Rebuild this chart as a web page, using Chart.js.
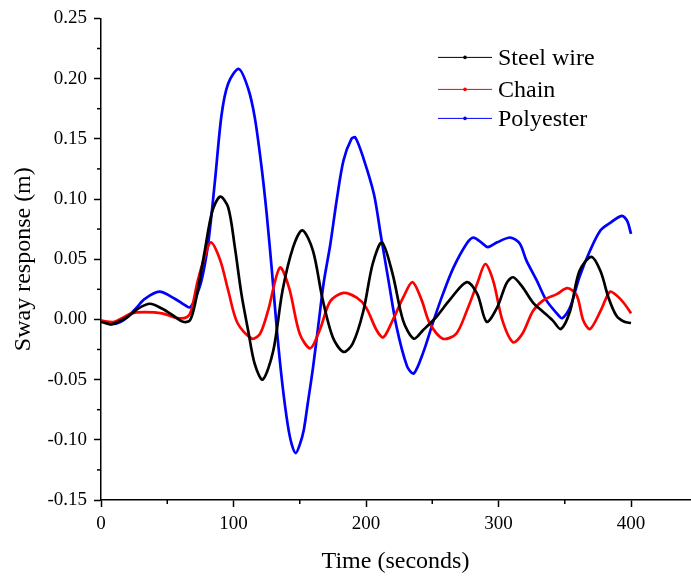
<!DOCTYPE html>
<html>
<head>
<meta charset="utf-8">
<script src="https://cdn.jsdelivr.net/npm/chart.js@4"></script>
<style>
  html, body { margin: 0; padding: 0; background: #fff; }
  #wrap { width: 691px; height: 579px; }
</style>
</head>
<body>
<div id="wrap"><canvas id="swayChart"></canvas></div>
<script>
// Sample data
const timeSteel = [0, 8, 20, 28, 37, 46, 56, 62, 67, 71, 78, 84, 90, 96, 101, 106, 111, 116, 122, 130, 137, 145, 152, 160, 167, 175, 183, 190, 198, 205, 212, 220, 228, 236, 243, 253, 263, 276, 284, 291, 299, 306, 311, 318, 326, 334, 341, 347, 354, 361, 370, 377, 383, 389, 395, 400];
const steelWire = [-0.002, -0.004, 0.002, 0.009, 0.013, 0.009, 0.002, -0.002, -0.001, 0.013, 0.055, 0.090, 0.102, 0.093, 0.060, 0.021, -0.009, -0.037, -0.050, -0.026, 0.024, 0.060, 0.074, 0.057, 0.018, -0.015, -0.027, -0.020, 0.007, 0.046, 0.064, 0.038, -0.001, -0.016, -0.009, 0.002, 0.016, 0.031, 0.021, -0.002, 0.010, 0.030, 0.035, 0.027, 0.014, 0.006, -0.001, -0.008, 0.007, 0.040, 0.052, 0.040, 0.018, 0.003, -0.002, -0.003];

const timeChain = [0, 10, 23, 33, 46, 58, 65, 68, 73, 78, 83, 90, 96, 103, 114, 120, 126, 135, 142, 150, 158, 165, 173, 183, 193, 200, 208, 213, 220, 228, 235, 242, 248, 258, 268, 276, 284, 290, 296, 303, 311, 318, 326, 334, 344, 352, 359, 364, 369, 377, 384, 389, 395, 400];
const chain = [-0.001, -0.002, 0.005, 0.006, 0.005, 0.001, 0.002, 0.007, 0.032, 0.051, 0.064, 0.049, 0.024, -0.003, -0.016, -0.012, 0.007, 0.043, 0.026, -0.012, -0.024, -0.009, 0.015, 0.022, 0.018, 0.010, -0.009, -0.015, -0.001, 0.018, 0.031, 0.016, -0.003, -0.016, -0.012, 0.007, 0.030, 0.046, 0.032, -0.001, -0.019, -0.012, 0.007, 0.016, 0.021, 0.026, 0.020, -0.001, -0.008, 0.007, 0.023, 0.020, 0.013, 0.005];

const timePoly = [0, 8, 15, 20, 27, 33, 44, 56, 63, 67, 71, 76, 81, 86, 91, 96, 104, 111, 116, 121, 125, 129, 133, 137, 141, 144, 147, 150, 153, 156, 160, 164, 168, 173, 178, 183, 189, 192, 198, 206, 211, 217, 223, 231, 236, 243, 251, 258, 266, 276, 281, 288, 292, 299, 309, 316, 321, 329, 336, 344, 348, 354, 361, 369, 377, 384, 393, 397, 400];
const polyester = [-0.001, -0.004, -0.002, 0.002, 0.010, 0.017, 0.023, 0.017, 0.012, 0.010, 0.017, 0.033, 0.064, 0.115, 0.170, 0.196, 0.208, 0.192, 0.168, 0.128, 0.088, 0.040, -0.012, -0.055, -0.088, -0.104, -0.111, -0.104, -0.092, -0.070, -0.040, -0.005, 0.030, 0.062, 0.100, 0.132, 0.150, 0.151, 0.134, 0.104, 0.071, 0.032, -0.006, -0.039, -0.045, -0.028, -0.001, 0.021, 0.043, 0.063, 0.068, 0.063, 0.060, 0.064, 0.068, 0.063, 0.049, 0.032, 0.016, 0.005, 0.001, 0.010, 0.035, 0.057, 0.074, 0.080, 0.086, 0.082, 0.071];

const seriesNames = ['Steel wire', 'Chain', 'Polyester'];
const xTicks = [0, 100, 200, 300, 400];
const yTicks = [-0.15, -0.10, -0.05, 0.00, 0.05, 0.10, 0.15, 0.20, 0.25];

const serif = "'Liberation Serif', 'Times New Roman', serif";

function toPoints(xs, ys) {
  return xs.map((x, i) => ({ x: x, y: ys[i] }));
}

// minor ticks halfway between the majors + legend inside the plot
const extras = {
  id: 'extras',
  afterDraw(chart) {
    const ctx = chart.ctx;
    const xs = chart.scales.x, ys = chart.scales.y;
    ctx.save();
    ctx.strokeStyle = '#000';
    ctx.lineWidth = 1.5;
    for (let i = 0; i < xTicks.length; i++) {
      const v = xTicks[i] + 50;
      if (v > xs.max) break;
      const px = xs.getPixelForValue(v);
      ctx.beginPath();
      ctx.moveTo(px, ys.bottom);
      ctx.lineTo(px, ys.bottom + 4);
      ctx.stroke();
    }
    for (let i = 0; i < yTicks.length - 1; i++) {
      const py = ys.getPixelForValue((yTicks[i] + yTicks[i + 1]) / 2);
      ctx.beginPath();
      ctx.moveTo(xs.left, py);
      ctx.lineTo(xs.left - 4, py);
      ctx.stroke();
    }

    // legend
    const area = chart.chartArea;
    const lx = area.right - 252;
    const rows = [39, 71, 100];
    ctx.font = '24px ' + serif;
    ctx.textBaseline = 'middle';
    chart.data.datasets.forEach((ds, i) => {
      const y = area.top + rows[i];
      ctx.strokeStyle = ds.borderColor;
      ctx.lineWidth = 1;
      ctx.beginPath();
      ctx.moveTo(lx, y);
      ctx.lineTo(lx + 54, y);
      ctx.stroke();
      ctx.fillStyle = ds.borderColor;
      ctx.beginPath();
      ctx.arc(lx + 27, y, 1.8, 0, Math.PI * 2);
      ctx.fill();
      ctx.fillStyle = '#000';
      ctx.fillText(ds.label, lx + 60, y + 1);
    });
    ctx.restore();
  }
};

const ctx = document.getElementById('swayChart').getContext('2d');

const swayChart = new Chart(ctx, {
  type: 'line',
  data: {
    datasets: [{
      label: seriesNames[0],
      data: toPoints(timeSteel, steelWire),
      borderColor: '#000000',
      borderWidth: 2.7,
      pointRadius: 0,
      tension: 0.3
    }, {
      label: seriesNames[1],
      data: toPoints(timeChain, chain),
      borderColor: '#ff0000',
      borderWidth: 2.7,
      pointRadius: 0,
      tension: 0.3
    }, {
      label: seriesNames[2],
      data: toPoints(timePoly, polyester),
      borderColor: '#0000ff',
      borderWidth: 2.7,
      pointRadius: 0,
      tension: 0.3
    }]
  },
  options: {
    responsive: true,
    maintainAspectRatio: false,
    animation: false,
    layout: { padding: { top: 16, right: 1, left: 0, bottom: 0 } },
    plugins: {
      legend: { display: false },
      tooltip: { enabled: false }
    },
    scales: {
      x: {
        type: 'linear',
        min: 0,
        max: 444.5,
        afterFit: (scale) => { scale.height = 79; },
        afterBuildTicks: (scale) => { scale.ticks = xTicks.map(v => ({ value: v })); },
        border: { color: '#000', width: 1.5 },
        grid: { drawOnChartArea: false, tickLength: 7, tickColor: '#000', tickWidth: 1.5 },
        ticks: {
          color: '#000',
          font: { family: serif, size: 19 },
          padding: 6,
          maxRotation: 0
        },
        title: {
          display: true,
          text: 'Time (seconds)',
          color: '#000',
          font: { family: serif, size: 24 },
          padding: { top: 0, bottom: 3 }
        }
      },
      y: {
        min: -0.15,
        max: 0.25,
        afterFit: (scale) => { scale.width = 101; },
        afterBuildTicks: (scale) => { scale.ticks = yTicks.map(v => ({ value: v })); },
        border: { color: '#000', width: 1.5 },
        grid: { drawOnChartArea: false, tickLength: 7, tickColor: '#000', tickWidth: 1.5 },
        ticks: {
          color: '#000',
          font: { family: serif, size: 19 },
          padding: 7,
          callback: (v) => v.toFixed(2)
        },
        title: {
          display: true,
          text: 'Sway response (m)',
          color: '#000',
          font: { family: serif, size: 24 },
          padding: { top: 9, bottom: 0 }
        }
      }
    }
  },
  plugins: [extras]
});
</script>
</body>
</html>
